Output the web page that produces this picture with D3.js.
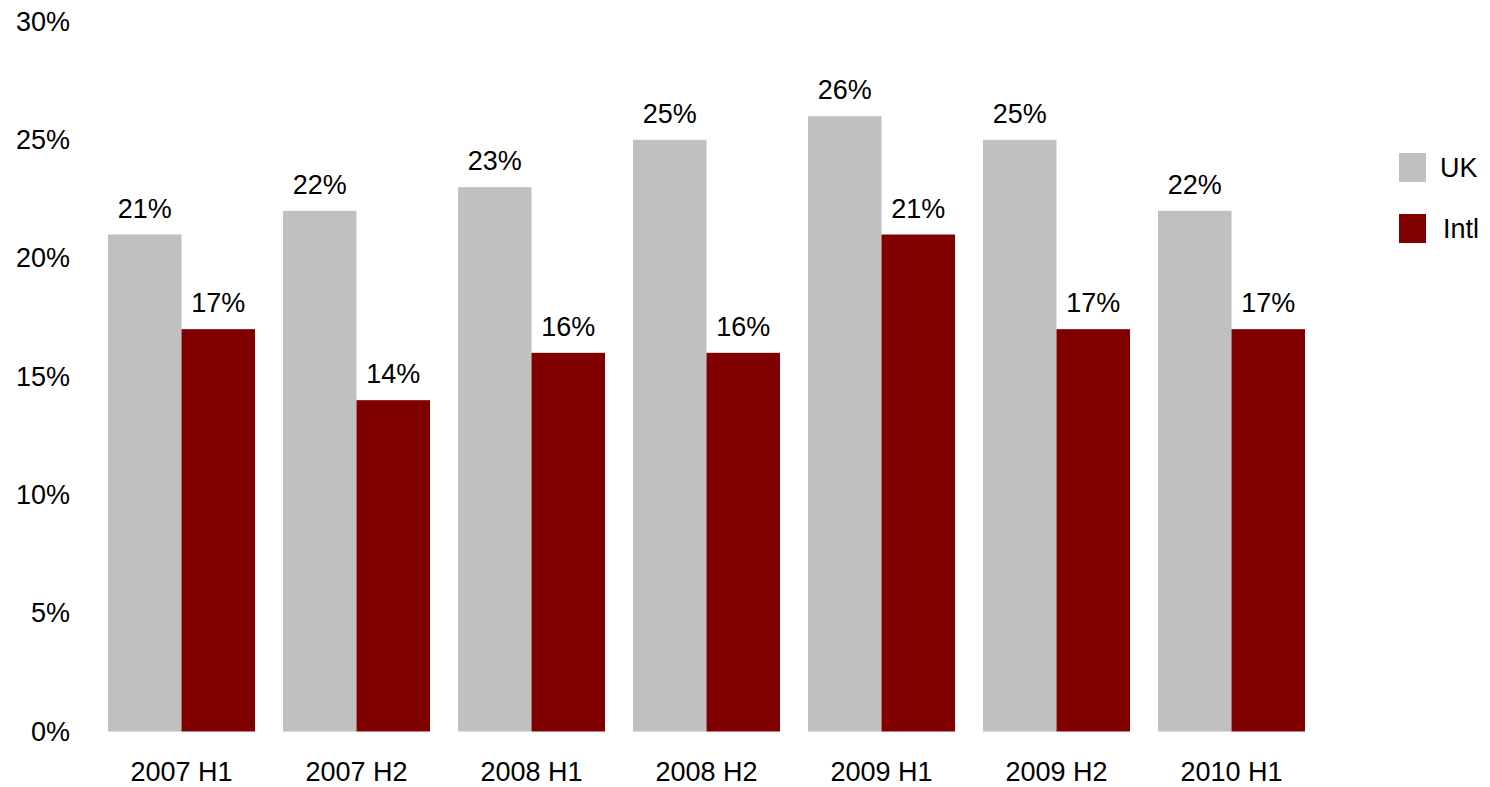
<!DOCTYPE html>
<html>
<head>
<meta charset="utf-8">
<script src="https://cdn.jsdelivr.net/npm/d3@7"></script>
<style>
  body { margin: 0; background: #fff; }
  text { font-family: "Liberation Sans", Arial, sans-serif; fill: #000; }
</style>
</head>
<body>
<div id="chart"></div>
<script>
const categories = ["2007 H1", "2007 H2", "2008 H1", "2008 H2", "2009 H1", "2009 H2", "2010 H1"];
const seriesNames = ["UK", "Intl"];
const ukValues = [21, 22, 23, 25, 26, 25, 22];
const intlValues = [17, 14, 16, 16, 21, 17, 17];
const yTicks = [0, 5, 10, 15, 20, 25, 30];
const colors = ["#c0c0c0", "#800000"];

const W = 1490, H = 787;
const fontSize = 27;

const svg = d3.select("#chart").append("svg")
    .attr("width", W)
    .attr("height", H);

// Skale
const x = d3.scaleBand()
    .domain(categories)
    .range([94, 1319])
    .paddingInner(0.16)
    .paddingOuter(0.08);

const xSub = d3.scaleBand()
    .domain(seriesNames)
    .range([0, x.bandwidth()]);

const y = d3.scaleLinear()
    .domain([0, 30])
    .range([731.5, 21.5]);

const data = categories.map((c, i) => ({
    cat: c,
    values: [
        { key: "UK", value: ukValues[i] },
        { key: "Intl", value: intlValues[i] }
    ]
}));

// Oś Y
const yAxis = svg.append("g")
    .attr("transform", "translate(70,0)")
    .call(d3.axisLeft(y).tickValues(yTicks).tickFormat(d => d + "%").tickSize(0).tickPadding(0));
yAxis.select(".domain").remove();
yAxis.selectAll("text")
    .style("font-size", fontSize + "px")
    .style("font-family", "Liberation Sans, Arial, sans-serif");

// Oś X
const xAxis = svg.append("g")
    .attr("transform", "translate(0,731.5)")
    .call(d3.axisBottom(x).tickSize(0).tickPadding(30));
xAxis.select(".domain").remove();
xAxis.selectAll("text")
    .style("font-size", fontSize + "px")
    .style("font-family", "Liberation Sans, Arial, sans-serif");

// Słupki
const groups = svg.append("g").selectAll("g")
    .data(data)
    .join("g")
    .attr("transform", d => `translate(${x(d.cat)},0)`);

groups.selectAll("rect")
    .data(d => d.values)
    .join("rect")
    .attr("x", d => xSub(d.key))
    .attr("y", d => y(d.value))
    .attr("width", xSub.bandwidth())
    .attr("height", d => y(0) - y(d.value))
    .attr("fill", (d, i) => colors[i]);

groups.selectAll("text.val")
    .data(d => d.values)
    .join("text")
    .attr("class", "val")
    .attr("x", d => xSub(d.key) + xSub.bandwidth() / 2)
    .attr("y", d => y(d.value) - 17)
    .attr("text-anchor", "middle")
    .style("font-size", fontSize + "px")
    .text(d => d.value + "%");

// Legenda
const legend = svg.append("g")
    .attr("transform", "translate(1399,153)");
const li = legend.selectAll("g")
    .data(seriesNames)
    .join("g")
    .attr("transform", (d, i) => `translate(0,${i * 61})`);
li.append("rect")
    .attr("width", 27)
    .attr("height", 29)
    .attr("fill", (d, i) => colors[i]);
li.append("text")
    .attr("x", (d, i) => i === 0 ? 41 : 44)
    .attr("y", 14.5)
    .attr("dy", "0.35em")
    .style("font-size", fontSize + "px")
    .text(d => d);
</script>
</body>
</html>
